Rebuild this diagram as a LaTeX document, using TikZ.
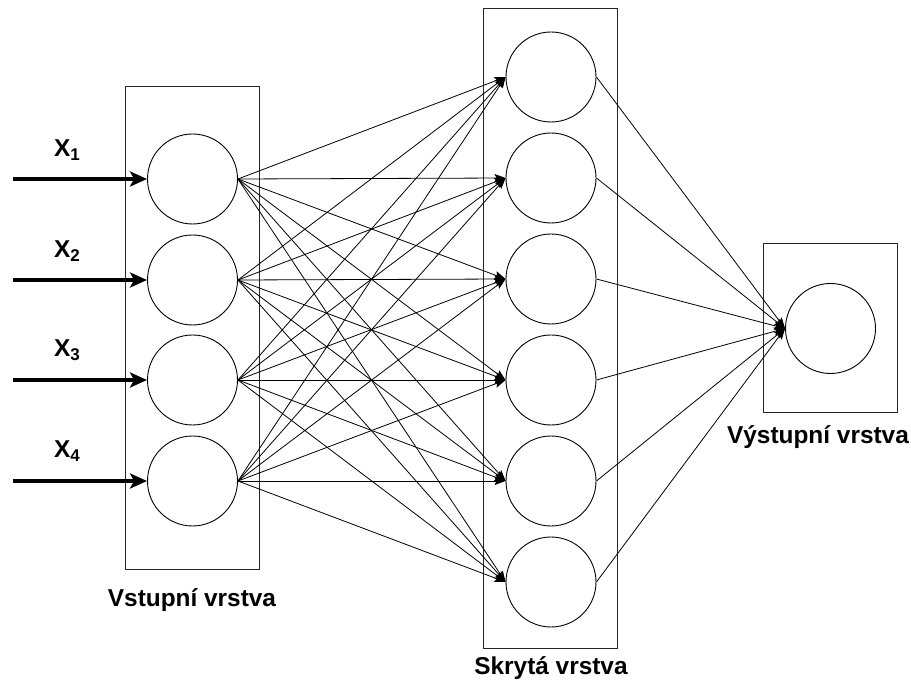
\documentclass[tikz,border=0pt]{standalone}
\usepackage{fontspec}
\setmainfont{Liberation Sans}
\usetikzlibrary{arrows.meta}
\begin{document}
\begin{tikzpicture}[x=1pt,y=-1pt,
  neuron/.style={draw,circle,minimum size=90pt,inner sep=0pt,line width=0.9pt},
  layerbox/.style={draw,line width=1pt,black!85},
  conn/.style={line width=0.8pt,-{Stealth[length=11pt,width=8pt,inset=2pt]}},
  inarrow/.style={line width=3.6pt,-{Stealth[length=17pt,width=15pt,inset=4pt]}},
  lbl/.style={font=\fontsize{24.4}{28}\selectfont\bfseries},
  xlbl/.style={font=\fontsize{24.4}{28}\selectfont\bfseries,anchor=base}]
\useasboundingbox (0,0) rectangle (911,684);
% layer boxes
\draw[layerbox] (125,87) rectangle (259,569);
\draw[layerbox] (483,9) rectangle (617,648);
\draw[layerbox] (763,244) rectangle (897,413);
% input neurons
\foreach \i/\y in {1/179,2/280,3/380,4/481}{
  \node[neuron] (in\i) at (192.5,\y) {};
  \coordinate (s\i) at (13,\y);
}
% hidden neurons
\foreach \j/\y in {1/77,2/178,3/279,4/380,5/481,6/582}{
  \node[neuron] (h\j) at (551,\y) {};
}
% output neuron
\node[neuron] (o1) at (830.5,328.5) {};
% input arrows
\foreach \i in {1,...,4}{\draw[inarrow] (s\i) -- (in\i.west);}
% labels
\node[xlbl] (x1) at (67,157) {X\raisebox{-0.3ex}{\fontsize{17}{17}\selectfont 1}};
\node[xlbl] (x2) at (67,258) {X\raisebox{-0.3ex}{\fontsize{17}{17}\selectfont 2}};
\node[xlbl] (x3) at (67,357) {X\raisebox{-0.3ex}{\fontsize{17}{17}\selectfont 3}};
\node[xlbl] (x4) at (67,458) {X\raisebox{-0.3ex}{\fontsize{17}{17}\selectfont 4}};
% connections input -> hidden
\foreach \i in {1,...,4}{
  \foreach \j in {1,...,6}{
    \draw[conn] (in\i.east) -- (h\j.west);
  }
}
% hidden -> output
\foreach \j in {1,...,6}{\draw[conn] (h\j.east) -- (o1.west);}
% layer titles
\node[lbl] (t1) at (192,600) {Vstupní vrstva};
\node[lbl] (t2) at (551,668) {Skrytá vrstva};
\node[lbl] (t3) at (818,437) {Výstupní vrstva};
\end{tikzpicture}
\end{document}
